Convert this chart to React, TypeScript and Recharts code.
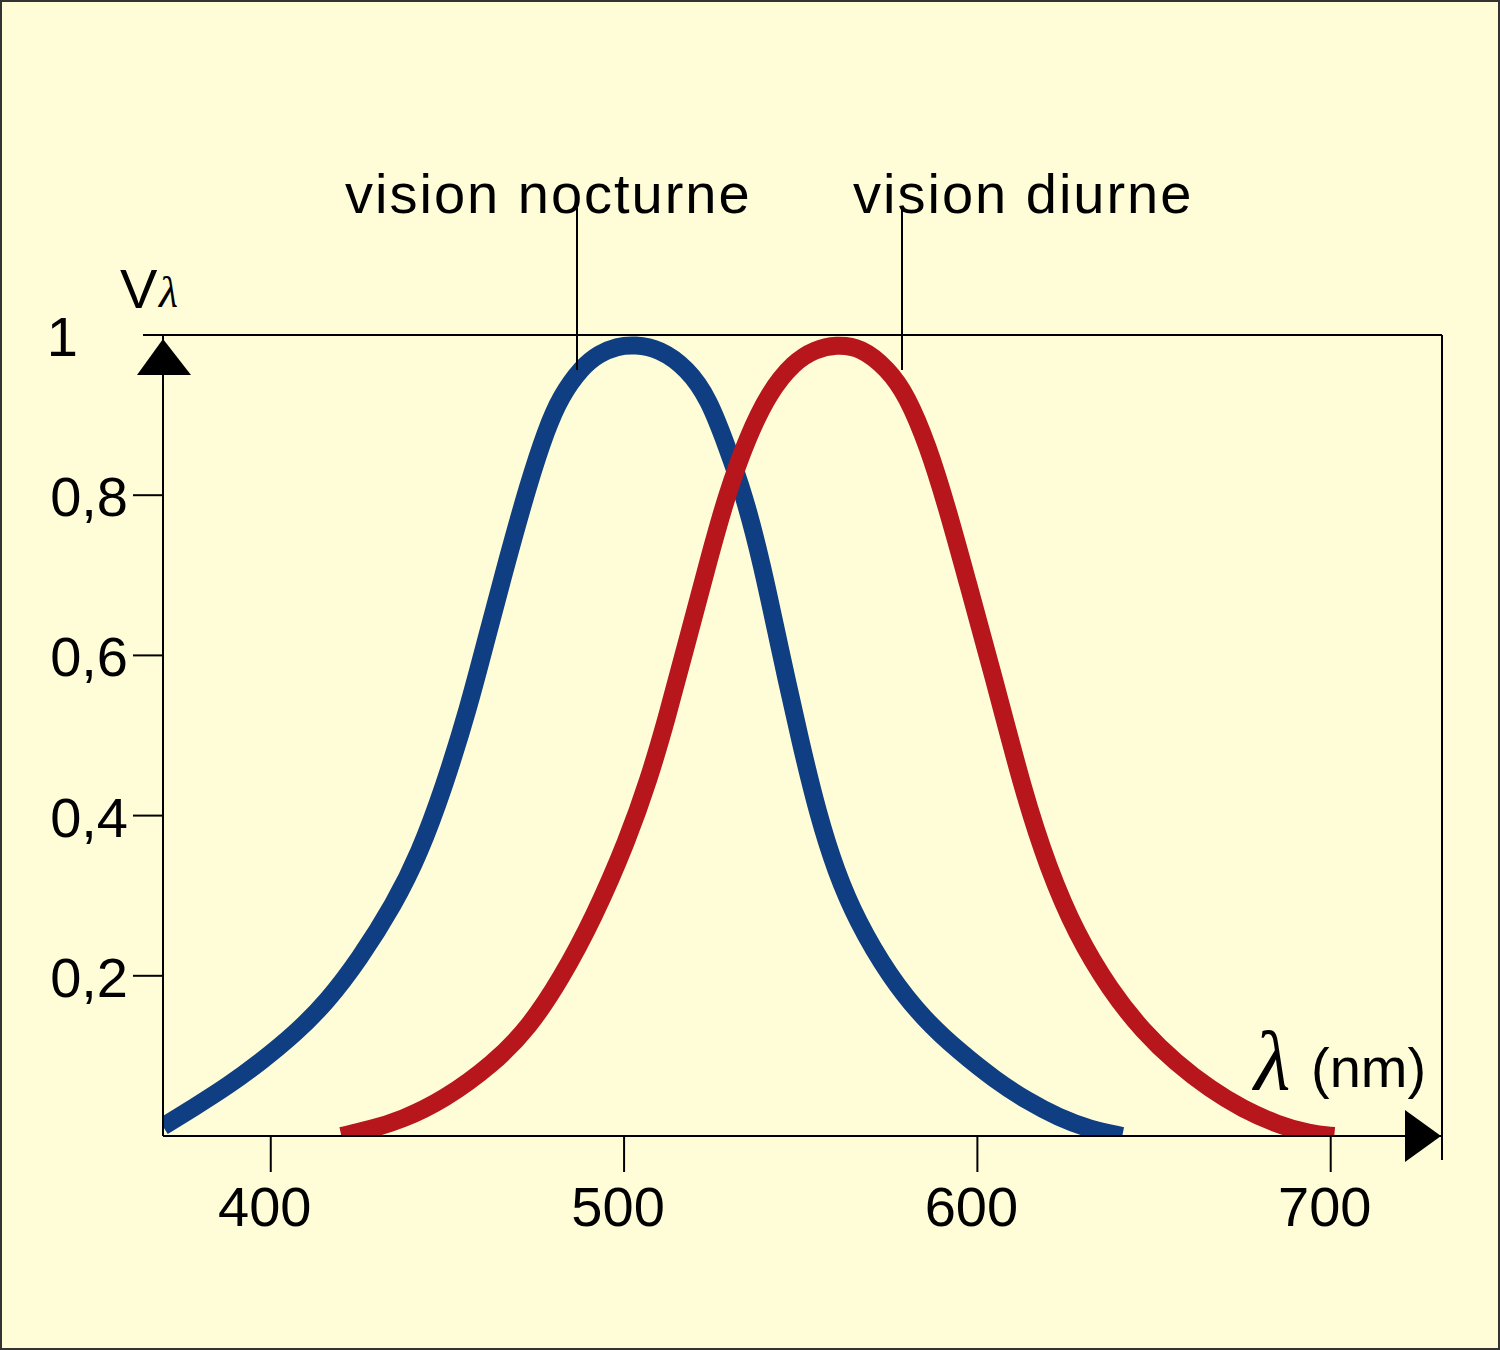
import React from "react";
import { LineChart, Line, XAxis, YAxis } from "recharts";

document.body.style.margin = "0";

// wavelength (nm) and relative luminous efficiency
const nocturneNm = [369.5, 378, 388, 397, 407, 416, 425, 435, 442, 449, 456, 461, 467, 473, 478, 482, 488, 493, 498, 503, 510, 518, 524, 529, 534, 539, 544, 550, 555, 560, 566, 575, 585, 595, 605, 614, 623, 632, 641];
const nocturneV = [0.012, 0.035, 0.063, 0.092, 0.128, 0.168, 0.22, 0.29, 0.352, 0.435, 0.535, 0.62, 0.72, 0.815, 0.882, 0.923, 0.96, 0.977, 0.986, 0.988, 0.983, 0.958, 0.92, 0.862, 0.8, 0.715, 0.61, 0.49, 0.4, 0.33, 0.268, 0.2, 0.145, 0.105, 0.07, 0.044, 0.023, 0.008, 0];

const diurneNm = [420, 428, 437, 449, 463, 473, 482, 491.5, 501, 507, 512, 518, 524, 529, 535, 541, 548, 554, 560, 567, 574.6, 580, 586, 591.6, 597, 604.5, 613, 620, 628, 637.6, 647, 656, 666, 675, 685, 694, 701];
const diurneV = [0, 0.008, 0.02, 0.045, 0.09, 0.135, 0.195, 0.273, 0.37, 0.445, 0.52, 0.62, 0.72, 0.8, 0.873, 0.928, 0.966, 0.982, 0.988, 0.985, 0.958, 0.925, 0.862, 0.782, 0.695, 0.575, 0.43, 0.335, 0.252, 0.182, 0.13, 0.092, 0.058, 0.034, 0.014, 0.003, 0];

const xTicks = [400, 500, 600, 700];
const yTicks = [0.2, 0.4, 0.6, 0.8, 1];
const yTickLabels = ["0,2", "0,4", "0,6", "0,8", "1"];

const nocturne = nocturneNm.map((nm, i) => ({ nm, v: nocturneV[i] }));
const diurne = diurneNm.map((nm, i) => ({ nm, v: diurneV[i] }));

const W = 1500;
const H = 1350;
const PLOT_LEFT = 163;
const PLOT_RIGHT = 1442;
const PLOT_TOP = 335;
const PLOT_BOTTOM = 1136;

const BG = "#FFFDD7";
const BLUE = "#0f3f82";
const RED = "#b8161d";
const SANS = "'Liberation Sans', Arial, sans-serif";
const SERIF = "'Liberation Serif', 'Times New Roman', serif";

const renderXTick = (props: any) => {
  const { x, y, payload } = props;
  return (
    <text x={x - 6} y={y + 54} textAnchor="middle" fontFamily={SANS} fontSize={56} fill="#000">
      {payload.value}
    </text>
  );
};

const renderYTick = (props: any) => {
  const { y, payload } = props;
  const i = yTicks.indexOf(payload.value);
  const top = payload.value === 1;
  return (
    <g>
      {!top && (
        <line x1={PLOT_LEFT - 30} x2={PLOT_LEFT} y1={y} y2={y} stroke="#000" strokeWidth={2} />
      )}
      <text x={top ? 78 : 128} y={y + 21} textAnchor="end" fontFamily={SANS} fontSize={56} fill="#000">
        {yTickLabels[i]}
      </text>
    </g>
  );
};

export default function App() {
  return (
    <div style={{ position: "relative", width: W, height: H, background: BG }}>
      <LineChart
        width={W}
        height={H}
        margin={{ top: PLOT_TOP, right: W - PLOT_RIGHT, bottom: H - PLOT_BOTTOM - 80, left: PLOT_LEFT - 130 }}
      >
        <XAxis
          type="number"
          dataKey="nm"
          domain={[369.5, 731.5]}
          ticks={xTicks}
          interval={0}
          allowDataOverflow
          height={80}
          axisLine={{ stroke: "#000", strokeWidth: 2 }}
          tickLine={{ stroke: "#000", strokeWidth: 2 }}
          tickSize={36}
          tickMargin={0}
          tick={renderXTick}
        />
        <YAxis
          type="number"
          domain={[0, 1]}
          ticks={yTicks}
          interval={0}
          allowDataOverflow
          width={130}
          axisLine={{ stroke: "#000", strokeWidth: 2 }}
          tickLine={false}
          tick={renderYTick}
        />
        <Line
          data={nocturne}
          dataKey="v"
          type="basis"
          stroke={BLUE}
          strokeWidth={18}
          dot={false}
          activeDot={false}
          isAnimationActive={false}
        />
        <Line
          data={diurne}
          dataKey="v"
          type="basis"
          stroke={RED}
          strokeWidth={18}
          dot={false}
          activeDot={false}
          isAnimationActive={false}
        />
      </LineChart>

      <svg
        width={W}
        height={H}
        style={{ position: "absolute", left: 0, top: 0, pointerEvents: "none" }}
      >
        <rect x={1} y={1} width={W - 2} height={H - 2} fill="none" stroke="#333" strokeWidth={2} />
        {/* frame: top and right */}
        <line x1={143} x2={PLOT_RIGHT} y1={PLOT_TOP} y2={PLOT_TOP} stroke="#000" strokeWidth={2} />
        <line x1={PLOT_RIGHT} x2={PLOT_RIGHT} y1={PLOT_TOP} y2={1160} stroke="#000" strokeWidth={2} />
        {/* axis arrows */}
        <polygon points={`${PLOT_LEFT},339 137,375 191,375`} fill="#000" />
        <polygon points={`1441,${PLOT_BOTTOM} 1405,1110 1405,1162`} fill="#000" />
        {/* leaders */}
        <line x1={577} x2={577} y1={208} y2={370} stroke="#000" strokeWidth={2} />
        <line x1={902} x2={902} y1={208} y2={370} stroke="#000" strokeWidth={2} />
        <text x={345} y={213} fontFamily={SANS} fontSize={56} letterSpacing={2} fill="#000">
          vision nocturne
        </text>
        <text x={853} y={213} fontFamily={SANS} fontSize={56} letterSpacing={2} fill="#000">
          vision diurne
        </text>
        <text x={120} y={308} fontFamily={SANS} fontSize={56} fill="#000">
          V
        </text>
        <text x={159} y={307} fontFamily={SERIF} fontStyle="italic" fontSize={44} fill="#000">
          λ
        </text>
        <text x={1254} y={1089} fontFamily={SERIF} fontStyle="italic" fontSize={84} fill="#000">
          λ
        </text>
        <text x={1311} y={1087} fontFamily={SANS} fontSize={56} fill="#000">
          (nm)
        </text>
      </svg>
    </div>
  );
}
